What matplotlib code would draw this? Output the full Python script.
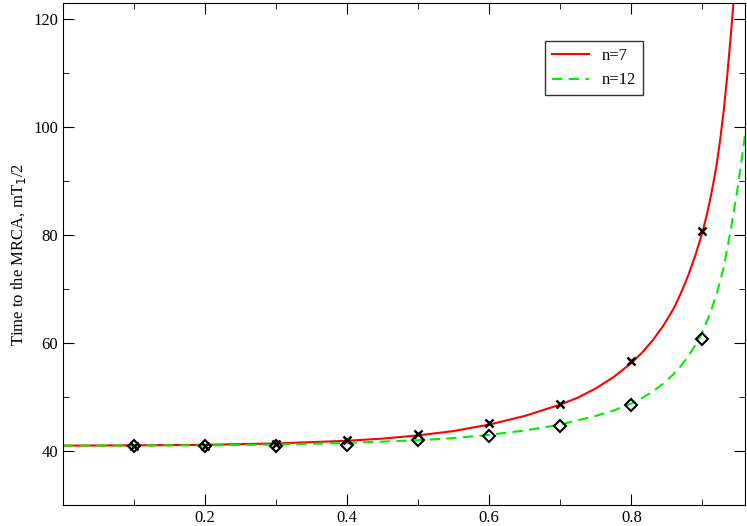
import matplotlib
matplotlib.use("Agg")
import matplotlib.pyplot as plt
from matplotlib.ticker import MultipleLocator

plt.rcParams["font.family"] = "Liberation Serif"

curve_x7 = [0.0, 0.1, 0.2, 0.3, 0.4, 0.45, 0.5, 0.55, 0.6, 0.65, 0.7, 0.725, 0.75, 0.775, 0.8, 0.815, 0.83, 0.845, 0.86, 0.87, 0.88, 0.89, 0.9, 0.905, 0.91, 0.915, 0.92, 0.925, 0.93, 0.935, 0.94, 0.945]
curve_y7 = [41.0, 41.05, 41.15, 41.4, 41.9, 42.3, 42.9, 43.7, 44.9, 46.5, 48.6, 49.9, 51.6, 53.7, 56.3, 58.2, 60.5, 63.2, 66.5, 69.3, 72.5, 76.2, 80.5, 83.1, 86.0, 89.3, 93.0, 97.6, 103.0, 109.5, 117.0, 125.0]
curve_x12 = [0.0, 0.1, 0.2, 0.3, 0.4, 0.5, 0.55, 0.6, 0.65, 0.7, 0.75, 0.775, 0.8, 0.815, 0.83, 0.845, 0.86, 0.87, 0.88, 0.89, 0.9, 0.91, 0.92, 0.93, 0.94, 0.95, 0.96]
curve_y12 = [41.0, 41.0, 41.05, 41.2, 41.5, 42.0, 42.4, 43.0, 43.8, 44.9, 46.5, 47.5, 48.8, 49.8, 51.0, 52.5, 54.3, 55.8, 57.5, 59.6, 62.0, 65.2, 69.0, 74.0, 81.0, 89.0, 98.5]
pts_x = [0.1, 0.2, 0.3, 0.4, 0.5, 0.6, 0.7, 0.8, 0.9]
pts_y7 = [41.0, 41.0, 41.3, 42.0, 43.2, 45.2, 48.8, 56.7, 80.7]
pts_y12 = [41.0, 41.0, 41.0, 41.2, 42.0, 42.8, 44.6, 48.6, 60.8]

fig = plt.figure(figsize=(7.47, 5.26), dpi=100)
ax = fig.add_axes([63/747, 21/526, 682/747, 502/526])
ax.plot(curve_x7, curve_y7, color="#ff0000", lw=1.5, label="n=7")
ax.plot(curve_x12, curve_y12, color="#00ee00", lw=1.5, ls=(0, (5, 3)), label="n=12")
ax.plot(pts_x, pts_y7, ls="none", marker="x", color="black", ms=6, mew=1.8)
ax.plot(pts_x, pts_y12, ls="none", marker="D", mfc="none", mec="black", ms=6, mew=1.5)
ax.set_xlim(0.0, 0.96)
ax.set_ylim(30, 123)
ax.set_xticks([0.2, 0.4, 0.6, 0.8])
ax.set_yticks([40, 60, 80, 100, 120])
ax.xaxis.set_minor_locator(MultipleLocator(0.1))
ax.yaxis.set_minor_locator(MultipleLocator(10))
ax.tick_params(which="both", direction="in", top=True, right=True, labelsize=12)
ax.tick_params(which="major", length=8)
ax.tick_params(which="minor", length=4)
ax.set_xlabel("Clustering strength, y", fontsize=12, labelpad=0)
ax.set_ylabel("Time to the MRCA, mT$_1$/2", fontsize=12)
leg = ax.legend(loc="upper left", bbox_to_anchor=(0.695, 0.94), fontsize=12, frameon=True,
                fancybox=False, edgecolor="black", handlelength=2.2, borderpad=0.4)
leg.get_frame().set_linewidth(1.0)
fig.savefig("out.png", dpi=100)
